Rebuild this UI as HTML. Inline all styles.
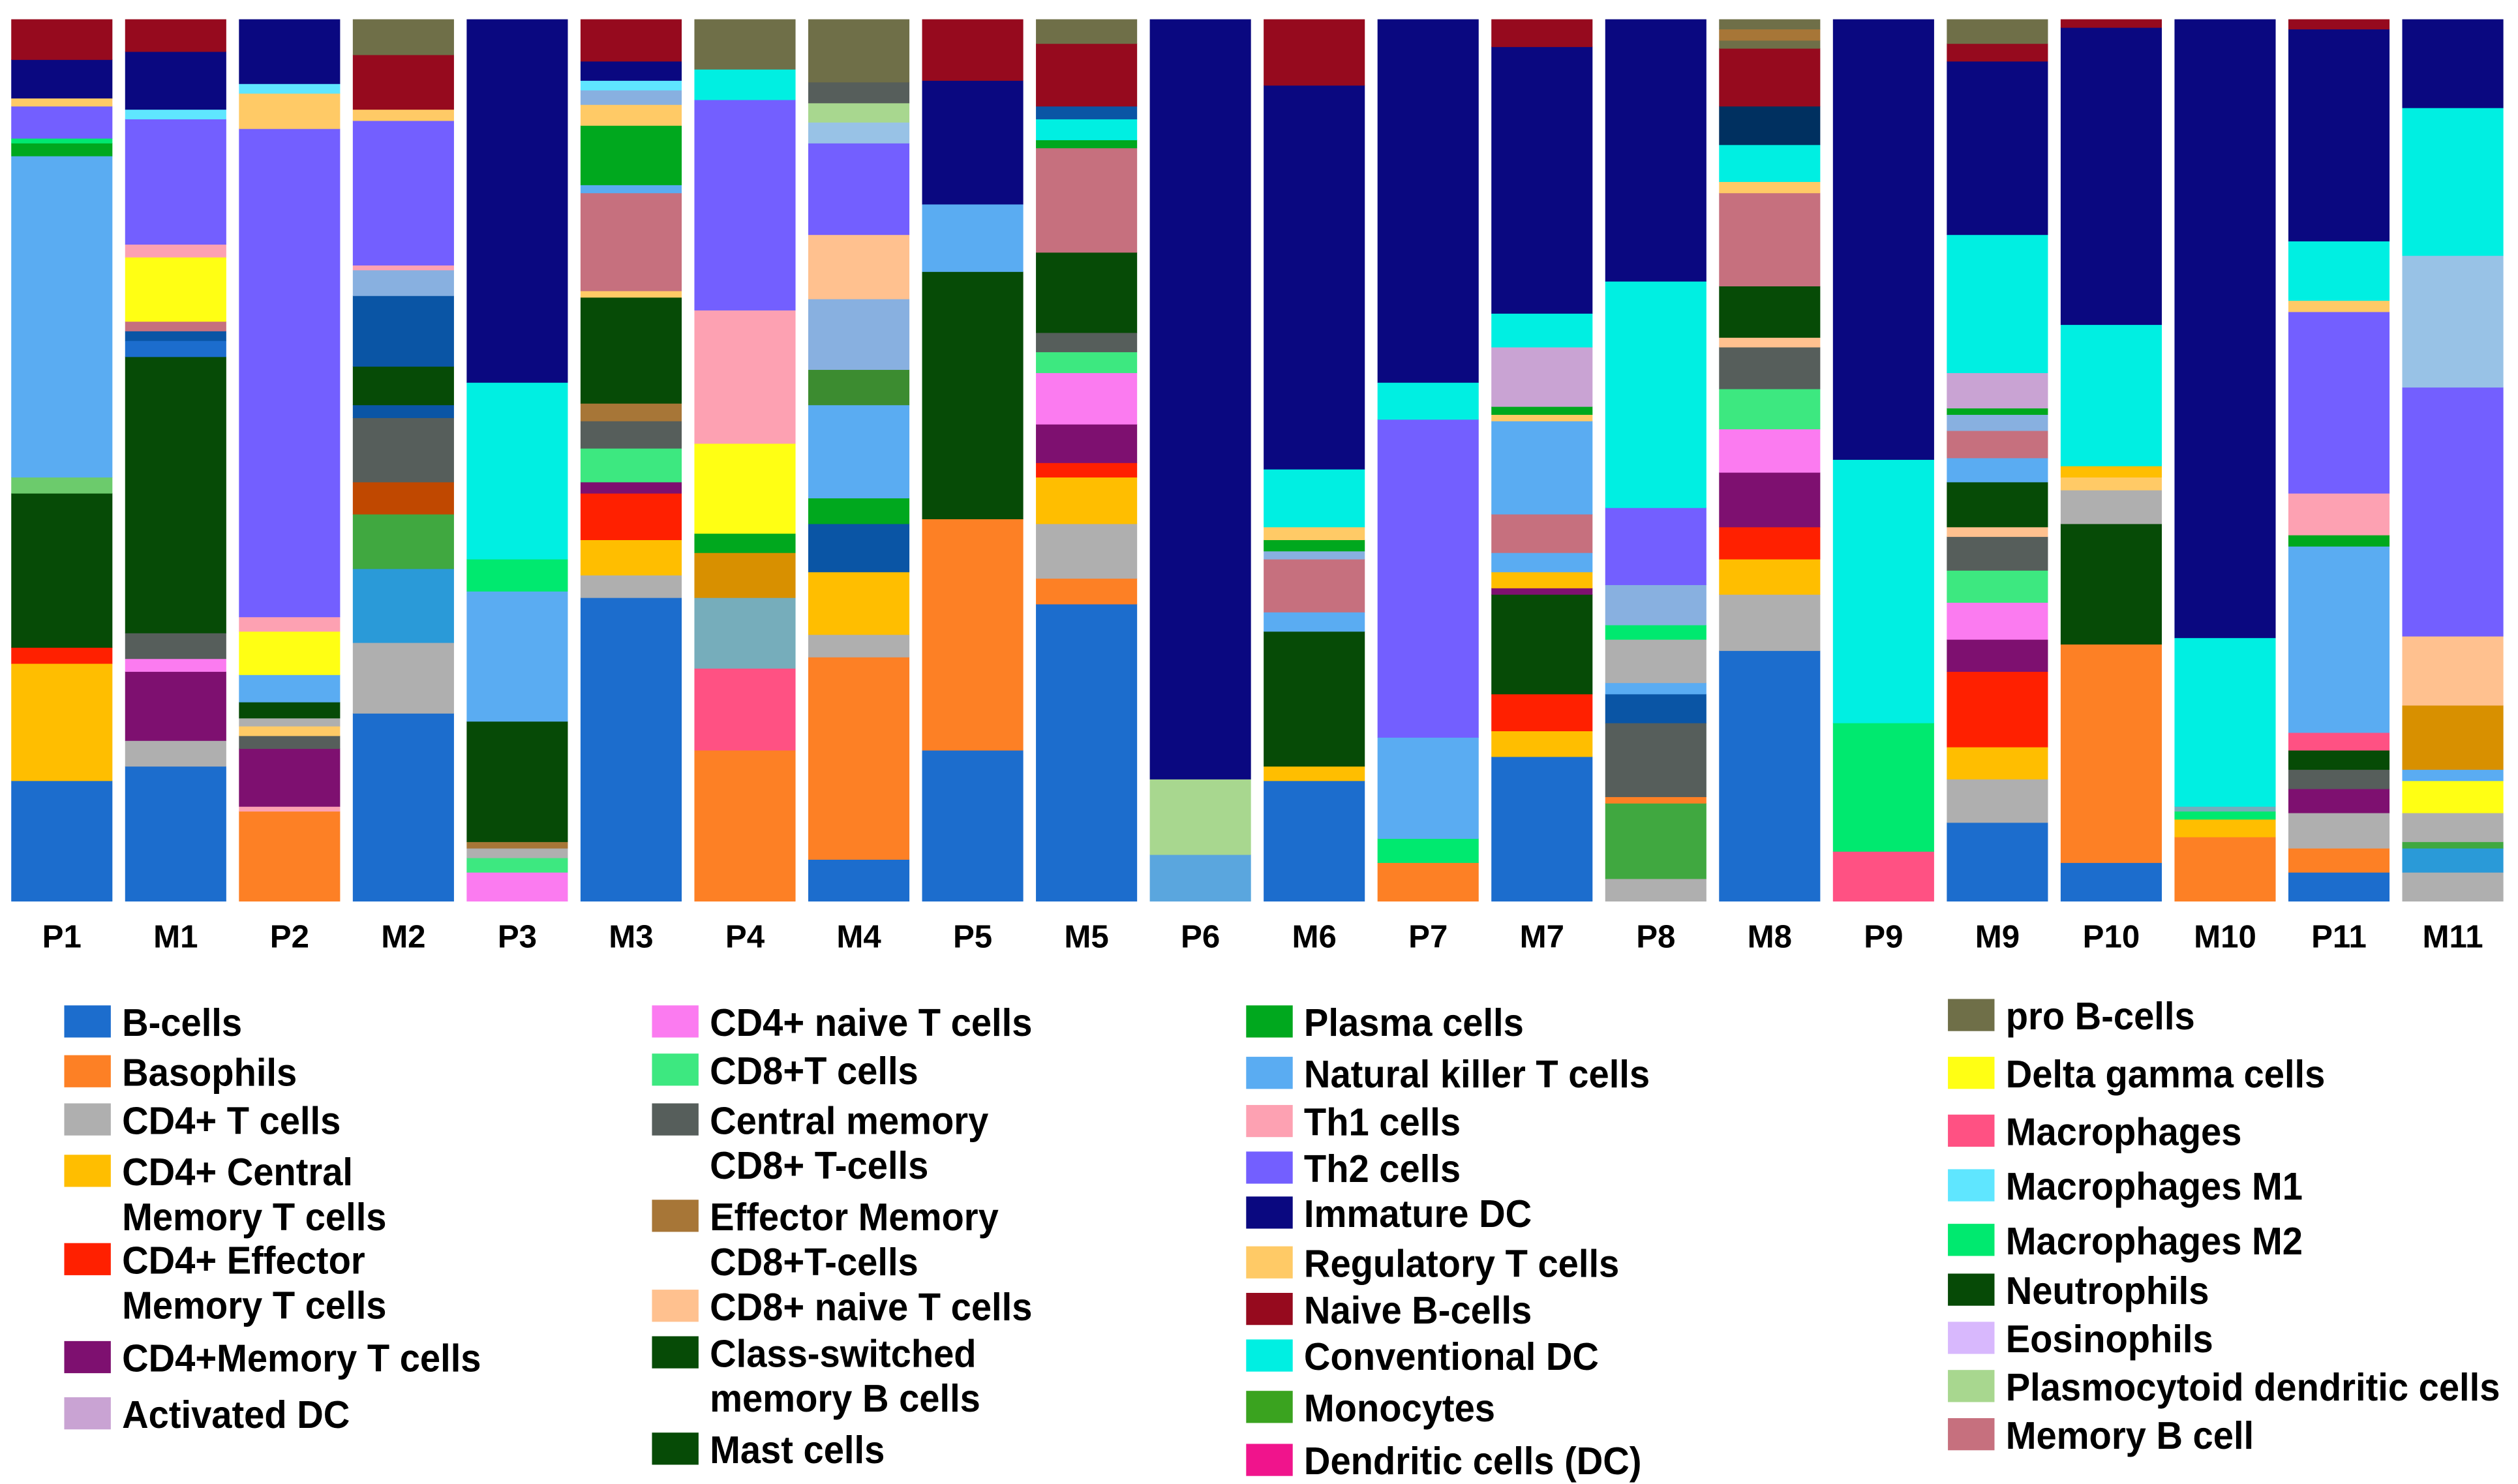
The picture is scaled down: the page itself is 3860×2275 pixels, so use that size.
<!DOCTYPE html>
<html><head><meta charset="utf-8"><style>
html,body{margin:0;padding:0;background:#fff;}
svg{display:block;}
text{font-family:"Liberation Sans",sans-serif;font-weight:bold;fill:#000;}
</style></head><body>
<svg id="chart" width="3860" height="2275" viewBox="0 0 1568 924" preserveAspectRatio="none" xmlns="http://www.w3.org/2000/svg">
<rect x="0" y="0" width="1568" height="924" fill="#fff"/>
<g id="bars"></g>
<g id="xlabels"></g>
<g id="legend"></g>
</svg>
<script>
const categories = ["P1","M1","P2","M2","P3","M3","P4","M4","P5","M5","P6","M6","P7","M7","P8","M8","P9","M9","P10","M10","P11","M11"];
const segTypes = [
["B","cmT","em","csw","lgreen","nkt","plasma","m2","th2","reg","imm","nb"],
["B","cd4t","mem","naive","cm8","csw","B","dblue","memB","dg","th1","th2","m1","imm","nb"],
["baso","th1","mem","cm8","reg","cd4t","neut","nkt","dg","th1","th2","reg","m1","imm"],
["B","cd4t","lblue","green2","brown","cm8","dblue","csw","dblue","lb","th1","th2","reg","nb","proB"],
["naive","cd8","cd4t","emm8","neut","nkt","m2","cdc","imm"],
["B","cd4t","cmT","em","mem","cd8","cm8","emm8","csw","reg","memB","nkt","plasma","reg","lb","m1","imm","nb"],
["baso","mac","teal","dorange","plasma","dg","th1","th2","cdc","proB"],
["B","baso","cd4t","cmT","dblue","plasma","nkt","mono2","lb","cd8n","th2","lb2","pdc","cm8","proB"],
["B","baso","csw","nkt","imm","nb"],
["B","baso","cd4t","cmT","em","mem","naive","cd8","cm8","csw","memB","plasma","cdc","dblue","nb","proB"],
["nkt2","pdc","imm"],
["B","cmT","csw","nkt","memB","lb","plasma","reg","cdc","imm","nb"],
["baso","m2","nkt","th2","cdc","imm"],
["B","cmT","em","csw","mem","cmT","nkt","memB","nkt","reg","plasma","act","cdc","imm","nb"],
["cd4t","green2","baso","cm8","dblue","nkt","cd4t","m2","lb","th2","cdc","imm"],
["B","cd4t","cmT","em","mem","naive","cd8","cm8","cd8n","csw","memB","reg","cdc","navy","nb","proB","emm8","proB"],
["mac","m2","cdc","imm"],
["B","cd4t","cmT","em","mem","naive","cd8","cm8","cd8n","csw","nkt","memB","lb","plasma","act","cdc","imm","nb","proB"],
["B","baso","csw","cd4t","reg","cmT","cdc","imm","nb"],
["baso","cmT","m2","teal","cdc","imm"],
["B","baso","cd4t","mem","cm8","csw","mac","nkt","plasma","th1","th2","reg","cdc","imm","nb"],
["cd4t","lblue","green2","cd4t","dg","nkt","dorange","cd8n","th2","lb2","cdc","imm"]
];
const segValues = [
[75,73,10,96,10,200,8,3,20,5,24,25],
[84,16,43,8,16,172,10,6,6,40,8,78,6,36,20],
[56,3,36,8,6,5,10,17,27,9,304,22,6,40],
[117,44,46,34,20,40,8,24,44,16,3,90,7,34,22],
[18,9,6,4,75,81,20,110,226],
[189,14,22,29,7,21,17,11,66,4,61,5,37,13,9,6,12,26],
[94,51,44,28,12,56,83,131,19,31],
[26,126,14,39,30,16,58,22,44,40,57,13,12,13,39],
[94,144,154,42,77,38],
[185,16,34,29,9,24,32,13,12,50,65,5,13,8,39,15],
[29,47,473],
[75,9,84,12,33,5,7,8,36,239,41],
[24,15,63,198,23,226],
[90,16,23,62,4,10,12,24,58,4,5,37,21,166,17],
[14,47,4,46,18,7,27,9,25,48,141,163],
[156,35,22,20,34,27,25,26,6,32,58,7,23,24,36,5,7,6],
[31,80,164,274],
[49,27,20,47,20,23,20,21,6,28,15,17,10,4,22,86,108,11,15],
[24,136,75,21,8,7,88,185,5],
[40,11,5,3,105,385],
[18,15,22,15,12,12,11,116,7,26,113,7,37,132,6],
[18,15,4,18,20,7,40,43,155,82,92,55]
];
const colors = {B:"#1c6dcd",baso:"#fd8025",cd4t:"#afafaf",cmT:"#ffbe00",em:"#ff2000",mem:"#7e1070",act:"#c9a3d3",naive:"#fb7bf0",cd8:"#3de880",cm8:"#565e5b",emm8:"#a77637",cd8n:"#ffc18f",csw:"#064b06",mast:"#064b06",plasma:"#00a81e",nkt:"#5aacf2",nkt2:"#5aa6de",th1:"#fda1b2",th2:"#735fff",imm:"#0a0880",reg:"#ffca66",nb:"#960a1e",cdc:"#00efe2",mono:"#3aa31f",dc:"#f0148c",proB:"#6f6f48",dg:"#ffff14",mac:"#ff5183",m1:"#5fe6ff",m2:"#00e96f",neut:"#064a06",eos:"#d8b8fd",pdc:"#a8d78f",memB:"#c6707e",lgreen:"#6ccb6c",dblue:"#0a55a5",lblue:"#2a9ad8",green2:"#40a840",brown:"#c04800",lb:"#88b0e0",teal:"#76adbb",dorange:"#d89000",lb2:"#98c2e6",navy:"#003060",mono2:"#3c8c30"};
const legendLabels = [
[["B-cells"],["Basophils"],["CD4+ T cells"],["CD4+ Central","Memory T cells"],["CD4+ Effector","Memory T cells"],["CD4+Memory T cells"],["Activated DC"]],
[["CD4+ naive T cells"],["CD8+T cells"],["Central memory","CD8+ T-cells"],["Effector Memory","CD8+T-cells"],["CD8+ naive T cells"],["Class-switched","memory B cells"],["Mast cells"]],
[["Plasma cells"],["Natural killer T cells"],["Th1 cells"],["Th2 cells"],["Immature DC"],["Regulatory T cells"],["Naive B-cells"],["Conventional DC"],["Monocytes"],["Dendritic cells (DC)"]],
[["pro B-cells"],["Delta gamma cells"],["Macrophages"],["Macrophages M1"],["Macrophages M2"],["Neutrophils"],["Eosinophils"],["Plasmocytoid dendritic cells"],["Memory B cell"]]
];
const legendKeys = [
["B","baso","cd4t","cmT","em","mem","act"],
["naive","cd8","cm8","emm8","cd8n","csw","mast"],
["plasma","nkt","th1","th2","imm","reg","nb","cdc","mono","dc"],
["proB","dg","mac","m1","m2","neut","eos","pdc","memB"]
];

const NS="http://www.w3.org/2000/svg";
const plotTop=12, plotBottom=561, barW=63;
function xPos(i){return 7+i*70.9;}
function yScale(frac){return plotBottom-frac*(plotBottom-plotTop);}

const barsG=document.getElementById('bars');
categories.forEach((cat,i)=>{
  const vals=segValues[i], types=segTypes[i];
  const total=vals.reduce((a,b)=>a+b,0);
  const g=document.createElementNS(NS,'g');
  
  
  let cum=0;
  vals.forEach((v,j)=>{
    const y0=yScale(cum/total), y1=yScale((cum+v)/total);
    cum+=v;
    const r=document.createElementNS(NS,'rect');
    r.setAttribute('x',xPos(i));
    r.setAttribute('y',y1);
    r.setAttribute('width',barW);
    r.setAttribute('height',Math.max(0,y0-y1)+0.3);
    r.setAttribute('fill',colors[types[j]]);
    
    
    g.appendChild(r);
  });
  barsG.appendChild(g);
  const t=document.createElementNS(NS,'text');
  t.setAttribute('x',xPos(i)+barW/2);
  t.setAttribute('y',590);
  t.setAttribute('text-anchor','middle');
  t.setAttribute('font-size','20');
  t.textContent=cat;
  
  
  document.getElementById('xlabels').appendChild(t);
});

const legendG=document.getElementById('legend');
const colX=[40,406,776,1213];
const colRows=[
[636,667,697,729,784,845,880],
[636,666,697,757,813,842,902],
[636,668,698,727,755,786,815,844,876,909],
[632,668,704,738,772,803,833,863,893]
];
legendKeys.forEach((keys,c)=>{
  keys.forEach((k,r)=>{
    const yc=colRows[c][r];
    const g=document.createElementNS(NS,'g');
    
    
    const s=document.createElementNS(NS,'rect');
    s.setAttribute('x',colX[c]);
    s.setAttribute('y',yc-10);
    s.setAttribute('width',29);
    s.setAttribute('height',20);
    s.setAttribute('fill',colors[k]);
    
    
    g.appendChild(s);
    legendLabels[c][r].forEach((line,li)=>{
      const t=document.createElementNS(NS,'text');
      t.setAttribute('transform','translate('+(colX[c]+36)+','+(yc+9+li*28)+') scale(0.95,1)');
      t.setAttribute('font-size','24');
      t.textContent=line;
      
      
      g.appendChild(t);
    });
    legendG.appendChild(g);
  });
});
</script>
</body></html>
